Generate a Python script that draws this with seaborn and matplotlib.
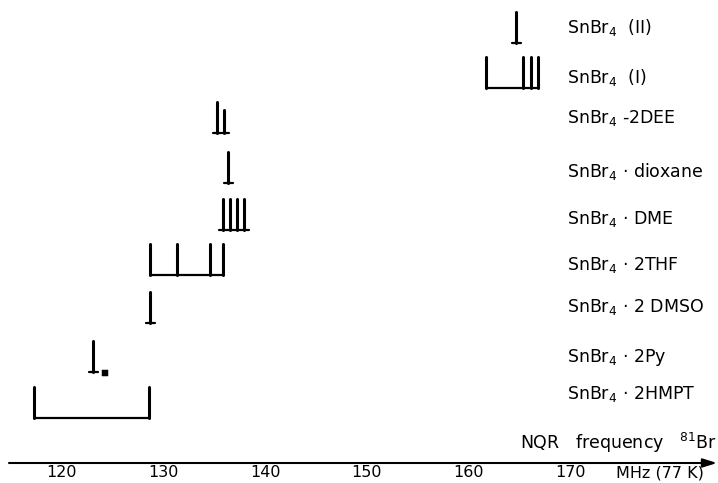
import numpy as np
import pandas as pd
import matplotlib
matplotlib.use("Agg")
import matplotlib.pyplot as plt
import seaborn as sns

# ---------------- data ----------------
compounds = ["SnBr$_4$  (II)", "SnBr$_4$  (I)", "SnBr$_4$ -2DEE", "SnBr$_4$ · dioxane",
             "SnBr$_4$ · DME", "SnBr$_4$ · 2THF", "SnBr$_4$ · 2 DMSO", "SnBr$_4$ · 2Py",
             "SnBr$_4$ · 2HMPT"]
freq_II = [164.7]
freq_I = [161.7, 165.4, 166.1, 166.8]
freq_DEE = [135.3, 136.0]
freq_dioxane = [136.4]
freq_DME = [135.9, 136.55, 137.25, 137.95]
freq_THF = [128.7, 131.3, 134.6, 135.9]
freq_DMSO = [128.7]
freq_Py = [123.1]
freq_HMPT = [117.3, 128.6]
rel_height_DEE = [1.0, 0.74]
weak_Py = [124.3]
tick_values = [120, 130, 140, 150, 160, 170]
tick_labels = ["120", "130", "140", "150", "160", "170"]
unit_label = "MHz (77 K)"
axis_title = "NQR   frequency   $^{81}$Br"

row_freqs = [freq_II, freq_I, freq_DEE, freq_dioxane, freq_DME, freq_THF,
             freq_DMSO, freq_Py, freq_HMPT]
row_heights = [None, None, rel_height_DEE, None, None, None, None, None, None]

# ---------------- layout (pixel units, from top) ----------------
row_base_px = [43, 88, 133, 182.5, 229.5, 275, 323, 372, 418]
label_px = [28, 77, 118, 172, 219, 265, 307, 358, 394]
MARK_H = 31.0

sns.set_theme(style="white")
plt.rcParams["font.family"] = ["DejaVu Sans"]
plt.rcParams["mathtext.default"] = "regular"
plt.rcParams["text.color"] = "black"
plt.rcParams["xtick.color"] = "black"

W, H = 718, 483
PX_PER_MHZ = 10.17
X0 = 120 - 61.7 / PX_PER_MHZ

fig = plt.figure(figsize=(W / 100, H / 100), dpi=100)
ax = fig.add_axes([0, 0, 1, 1])
ax.set_xlim(X0, X0 + W / PX_PER_MHZ)
ax.set_ylim(H, 0)

def px_to_x(px):
    return X0 + px / PX_PER_MHZ

vert_rows, base_rows = [], []
for i, (fr, hts) in enumerate(zip(row_freqs, row_heights)):
    if hts is None:
        hts = [1.0] * len(fr)
    yb = row_base_px[i]
    for j, (f, h) in enumerate(zip(fr, hts)):
        sid = f"v{i}_{j}"
        vert_rows.append(dict(x=f, y=yb, seg=sid))
        vert_rows.append(dict(x=f, y=yb - MARK_H * h, seg=sid))
    span = max(fr) - min(fr)
    pad = 0.45 if span < 3 else 0.0
    sid = f"b{i}"
    base_rows.append(dict(x=min(fr) - pad, y=yb, seg=sid))
    base_rows.append(dict(x=max(fr) + pad, y=yb, seg=sid))

vdf = pd.DataFrame(vert_rows)
bdf = pd.DataFrame(base_rows)

sns.lineplot(data=vdf, x="x", y="y", units="seg", estimator=None, sort=False,
             color="black", lw=2.2, ax=ax, legend=False)
sns.lineplot(data=bdf, x="x", y="y", units="seg", estimator=None, sort=False,
             color="black", lw=1.6, ax=ax, legend=False)
sns.scatterplot(x=weak_Py, y=[row_base_px[7] + 1], marker="s", s=20, color="black",
                edgecolor="black", ax=ax, legend=False)

for lab, ly in zip(compounds, label_px):
    ax.text(567 / W, ly, lab, transform=ax.get_yaxis_transform(),
            fontsize=12.5, va="center", ha="left")

y_axis = 463
for s in ["left", "right", "top"]:
    ax.spines[s].set_visible(False)
ax.spines["bottom"].set_position(("data", y_axis))
ax.spines["bottom"].set_visible(False)
ax.set_yticks([])
ax.set_xticks(tick_values)
ax.set_xticklabels(tick_labels, fontsize=11.5)
ax.tick_params(axis="x", direction="in", length=5, width=1.3, pad=1.5)
ax.set_xlabel("")
ax.set_ylabel("")
ax.annotate("", xy=(px_to_x(717), y_axis), xytext=(px_to_x(9), y_axis),
            arrowprops=dict(arrowstyle="-|>,head_length=0.7,head_width=0.22",
                            color="black", lw=1.5, shrinkA=0, shrinkB=0))
ax.text(px_to_x(616), 473.5, unit_label, fontsize=11.5, va="center", ha="left")
ax.text(px_to_x(717), 443, axis_title, fontsize=12.5, va="center", ha="right")

fig.savefig("out.png", dpi=100, facecolor="white")
